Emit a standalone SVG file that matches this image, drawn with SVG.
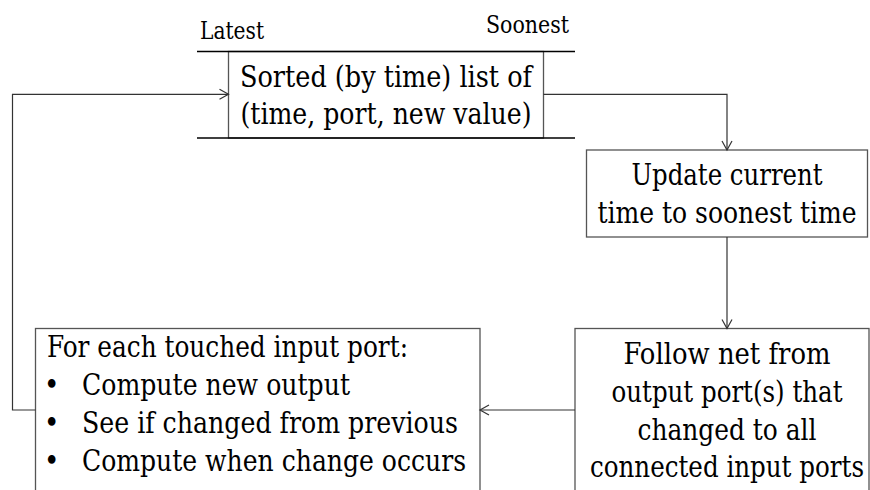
<svg xmlns="http://www.w3.org/2000/svg" width="870" height="490" viewBox="0 0 870 490">
  <style>
    .box { fill: #ffffff; stroke: #555555; stroke-width: 1.3; }
    .rule { stroke: #000000; stroke-width: 1.3; }
    .wire { fill: none; stroke: #333333; stroke-width: 1.2; }
    text { font-family: "DejaVu Serif", "Liberation Serif", serif; font-stretch: condensed; fill: #000000; }
    .t { font-size: 29px; }
    .lbl { font-size: 24px; }
    .c { text-anchor: middle; }
  </style>
  <defs>
    <marker id="arrow" markerWidth="12" markerHeight="12" refX="10" refY="6" orient="auto" markerUnits="userSpaceOnUse">
      <path d="M1,1 L10,6 L1,11" fill="none" stroke="#333333" stroke-width="1.2"/>
    </marker>
  </defs>

  <!-- event queue -->
  <g id="queue">
    <rect class="box" x="228.5" y="51.5" width="315" height="86.5"/>
    <line class="rule" x1="197" y1="51.5" x2="575" y2="51.5"/>
    <line class="rule" x1="197" y1="138" x2="575" y2="138"/>
    <text class="lbl" x="200" y="39" textLength="64" lengthAdjust="spacingAndGlyphs">Latest</text>
    <text class="lbl" x="486" y="33" textLength="83" lengthAdjust="spacingAndGlyphs">Soonest</text>
    <text class="t c" x="386" y="87" textLength="292" lengthAdjust="spacingAndGlyphs">Sorted (by time) list of</text>
    <text class="t c" x="386" y="124" textLength="291" lengthAdjust="spacingAndGlyphs">(time, port, new value)</text>
  </g>

  <!-- advance clock -->
  <g id="update">
    <rect class="box" x="586.5" y="150" width="281" height="87"/>
    <text class="t c" x="727" y="185" textLength="191" lengthAdjust="spacingAndGlyphs">Update current</text>
    <text class="t c" x="727" y="223" textLength="259" lengthAdjust="spacingAndGlyphs">time to soonest time</text>
  </g>

  <!-- propagate along nets -->
  <g id="follow">
    <rect class="box" x="575" y="328.5" width="294" height="175"/>
    <text class="t c" x="727" y="364" textLength="207" lengthAdjust="spacingAndGlyphs">Follow net from</text>
    <text class="t c" x="727" y="402" textLength="231" lengthAdjust="spacingAndGlyphs">output port(s) that</text>
    <text class="t c" x="727" y="440" textLength="179" lengthAdjust="spacingAndGlyphs">changed to all</text>
    <text class="t c" x="727" y="477" textLength="274" lengthAdjust="spacingAndGlyphs">connected input ports</text>
  </g>

  <!-- evaluate touched inputs -->
  <g id="evaluate">
    <rect class="box" x="35.5" y="328.5" width="444.5" height="175"/>
    <text class="t" x="47" y="357" textLength="361" lengthAdjust="spacingAndGlyphs">For each touched input port:</text>
    <text class="t" x="44" y="395">•</text>
    <text class="t" x="82" y="395" textLength="268" lengthAdjust="spacingAndGlyphs">Compute new output</text>
    <text class="t" x="44" y="433">•</text>
    <text class="t" x="82" y="433" textLength="376" lengthAdjust="spacingAndGlyphs">See if changed from previous</text>
    <text class="t" x="44" y="471">•</text>
    <text class="t" x="82" y="471" textLength="384" lengthAdjust="spacingAndGlyphs">Compute when change occurs</text>
  </g>

  <!-- connectors -->
  <g id="connectors">
    <path class="wire" d="M543.5,94.3 H727 V150" marker-end="url(#arrow)"/>
    <path class="wire" d="M727,237 V328.5" marker-end="url(#arrow)"/>
    <path class="wire" d="M575,410 H480" marker-end="url(#arrow)"/>
    <path class="wire" d="M35.5,410 H12.5 V94.3 H228.5" marker-end="url(#arrow)"/>
  </g>
</svg>
